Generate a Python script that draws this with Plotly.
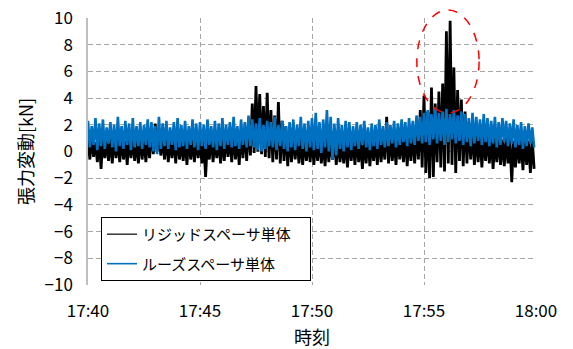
import pandas as pd
import plotly.graph_objects as go

# ---- data (10-second envelope samples) ----
start_time = "2020-01-01 17:40:00"
step_seconds = 10

rigid_high = [
    0.9, 1.1, 0.7, 1.0, 1.2, 0.8, 1.0, 1.3, 0.9, 1.1,
    0.8, 1.2, 1.0, 0.9, 1.3, 1.0, 1.1, 1.6, 2.1, 1.5,
    1.0, 1.2, 0.9, 1.1, 1.3, 0.8, 1.0, 1.2, 0.9, 1.1,
    1.0, 0.8, 1.0, 1.2, 0.9, 1.1, 1.0, 1.3, 1.1, 1.4,
    1.2, 1.5, 1.8, 2.4, 3.6, 4.9, 4.3, 3.4, 4.4, 3.1,
    2.7, 3.7, 2.3, 1.9, 1.5, 1.3, 1.2, 1.0, 1.1, 0.9,
    1.2, 1.0, 1.1, 0.8, 1.2, 0.9, 1.0, 1.1, 0.8, 1.0,
    1.2, 0.9, 1.1, 0.8, 1.0, 1.2, 0.9, 1.1, 1.3, 1.0,
    2.6, 1.2, 1.0, 1.3, 1.1, 1.4, 1.2, 1.5, 1.8, 3.1,
    4.2, 3.0, 4.8, 3.6, 4.5, 5.1, 9.0, 9.8, 6.3, 4.6,
    3.9, 3.0, 2.2, 1.8, 1.5, 1.4, 1.2, 1.3, 1.1, 1.0,
    1.2, 0.9, 1.1, 1.0, 0.8, 1.1, 0.9, 1.0, 0.8, 0.9,
]
rigid_low = [
    -0.6, -0.4, -0.8, -1.3, -0.5, -0.7, -0.9, -0.5, -0.8, -0.6,
    -1.0, -0.5, -0.7, -0.9, -0.6, -0.8, -0.5, -0.2, 0.0, -0.3,
    -0.6, -0.8, -0.5, -0.9, -0.6, -0.7, -1.0, -0.6, -0.8, -0.5,
    -0.9, -1.9, -0.6, -0.8, -0.5, -0.9, -0.7, -0.4, -0.8, -0.6,
    -1.0, -0.5, -0.7, -0.3, -0.1, 0.0, -0.2, -0.4, -0.5, -0.8,
    -0.6, -0.9, -0.7, -1.1, -0.8, -0.6, -0.9, -1.0, -0.7, -0.8,
    -1.0, -0.7, -0.9, -1.1, -0.8, -0.6, -1.0, -0.8, -0.9, -1.2,
    -0.7, -1.0, -0.8, -1.3, -0.9, -1.1, -0.7, -1.0, -0.8, -0.6,
    -0.9, -0.7, -1.0, -0.6, -0.8, -1.1, -0.7, -0.9, -0.6, -1.2,
    -1.6, -2.0, -1.9, -0.8, -1.2, -1.5, -0.9, -1.0, -1.6, -0.7,
    -1.1, -0.9, -0.6, -1.0, -0.8, -1.2, -0.7, -0.9, -1.3, -0.8,
    -1.0, -1.1, -0.9, -2.3, -1.2, -0.9, -1.4, -1.0, -1.6, -1.3,
]
loose_high = [
    2.3, 1.9, 2.5, 2.1, 2.4, 1.8, 2.2, 2.0, 2.6, 1.9,
    2.3, 2.1, 2.5, 1.9, 2.2, 2.0, 2.4, 2.2, 1.9, 2.6,
    2.1, 2.3, 1.8, 2.2, 2.5, 2.0, 2.3, 1.9, 2.4, 2.1,
    2.2, 2.0, 2.4, 1.9, 2.3, 2.1, 2.5, 2.0, 2.2, 2.6,
    1.9, 2.4, 2.2, 2.7, 2.4, 2.1, 2.5, 2.0, 2.3, 2.2,
    2.6, 2.0, 2.3, 1.9, 2.2, 2.4, 2.0, 2.6, 2.1, 2.3,
    2.5, 2.9, 2.2, 2.4, 3.1, 2.6, 2.1, 2.5, 2.0, 2.3,
    2.2, 1.9, 2.2, 2.0, 2.3, 1.8, 2.1, 2.0, 2.4, 1.9,
    2.2, 2.0, 2.3, 2.1, 2.4, 2.2, 2.5, 2.3, 2.7, 2.6,
    2.9, 3.1, 2.8, 3.3, 2.9, 3.0, 3.2, 2.8, 3.1, 2.7,
    3.0, 2.8, 2.5, 2.9, 2.6, 2.4, 2.8, 2.5, 2.3, 2.6,
    2.2, 2.5, 2.3, 2.1, 2.4, 2.0, 2.2, 1.9, 2.1, 1.8,
]
loose_low = [
    0.3, 0.5, 0.1, 0.4, 0.2, 0.6, 0.3, 0.0, 0.4, 0.2,
    0.5, 0.1, 0.3, 0.4, 0.2, 0.5, 0.3, 0.0, -0.2, 0.2,
    0.4, 0.2, 0.5, 0.1, 0.3, 0.4, 0.2, 0.5, 0.3, 0.1,
    0.4, 0.2, 0.5, 0.3, 0.1, 0.4, 0.2, 0.5, 0.3, 0.4,
    0.2, 0.5, 0.3, 0.4, 0.3, 0.1, 0.0, 0.2, 0.4, 0.3,
    0.1, 0.4, 0.2, 0.0, 0.3, 0.1, 0.4, 0.2, 0.0, 0.3,
    0.1, 0.2, -0.1, 0.3, 0.0, -0.6, -0.3, 0.2, 0.0, 0.3,
    0.1, 0.4, 0.2, 0.5, 0.3, 0.1, 0.4, 0.2, 0.5, 0.3,
    0.4, 0.6, 0.3, 0.5, 0.7, 0.4, 0.6, 0.5, 0.8, 0.6,
    0.7, 0.5, 0.9, 0.6, 0.8, 0.5, 0.7, 0.9, 0.6, 0.8,
    0.5, 0.7, 0.4, 0.6, 0.8, 0.5, 0.7, 0.4, 0.6, 0.3,
    0.5, 0.7, 0.4, 0.6, 0.3, 0.5, 0.2, 0.4, 0.6, 0.3,
]

series_names = ["リジッドスペーサ単体", "ルーズスペーサ単体"]
series_colors = ["#000000", "#0070C0"]
x_title = "時刻"
y_title = "張力変動[kN]"
x_range = ["2020-01-01 17:40:00", "2020-01-01 18:00:00"]
y_range = [-10, 10]


def interleave(high, low):
    t0 = pd.Timestamp(start_time)
    xs, ys = [], []
    for i, (h, l) in enumerate(zip(high, low)):
        xs.append(t0 + pd.Timedelta(seconds=i * step_seconds))
        ys.append(h)
        xs.append(t0 + pd.Timedelta(seconds=i * step_seconds + step_seconds / 2))
        ys.append(l)
    return xs, ys


font_family = "Noto Sans CJK JP, Noto Sans, sans-serif"
pad = "\u00a0\u00a0\u00a0\u00a0"

fig = go.Figure()
for (hi, lo), name, color, width in zip([(rigid_high, rigid_low), (loose_high, loose_low)],
                                        series_names, series_colors, [2.8, 2.6]):
    xs, ys = interleave(hi, lo)
    fig.add_trace(go.Scatter(x=xs, y=ys, mode="lines", name=name,
                             legendgroup=name, showlegend=False,
                             line=dict(color=color, width=width)))
# legend entries with thin sample lines
for name, color, width in zip(series_names, series_colors, [1.2, 1.6]):
    fig.add_trace(go.Scatter(x=[None], y=[None], mode="lines", name=name + pad,
                             legendgroup=name, showlegend=True,
                             line=dict(color=color, width=width)))

grid = dict(showgrid=True, gridcolor="#A6A6A6", gridwidth=1, griddash="5px,3px",
            zeroline=False, ticks="", automargin=False, ticklabeloverflow="allow",
            tickfont=dict(family=font_family, size=17, color="#000000"))

fig.update_layout(
    width=573, height=349,
    margin=dict(l=88, r=37, t=18, b=64),
    paper_bgcolor="white", plot_bgcolor="white",
    font=dict(family=font_family, color="#000000"),
    showlegend=True,
    legend=dict(x=0.029, y=0.255, xanchor="left", yanchor="top",
                bgcolor="white", bordercolor="#000000", borderwidth=1,
                font=dict(family=font_family, size=15, color="#000000"),
                traceorder="grouped", tracegroupgap=7),
    xaxis=dict(type="date", range=x_range, dtick=300000,
               tick0="2020-01-01 17:40:00", tickformat="%H:%M",
               showline=False, ticklabelstandoff=14,
               title=dict(text=x_title, font=dict(family=font_family, size=18), standoff=12),
               **grid),
    yaxis=dict(range=y_range, dtick=2, showline=True, linecolor="#BFBFBF", linewidth=1.5,
               ticklabelstandoff=10,
               title=dict(text=y_title, font=dict(family=font_family, size=18), standoff=6),
               **grid),
    shapes=[dict(type="circle", xref="paper", yref="paper",
                 x0=0.734, x1=0.873, y0=0.644, y1=1.030,
                 line=dict(color="#FF0000", width=1.5, dash="dash"))],
)

fig.write_html("out.html", config={"displayModeBar": False},
               post_script="document.body.style.margin='0';")
